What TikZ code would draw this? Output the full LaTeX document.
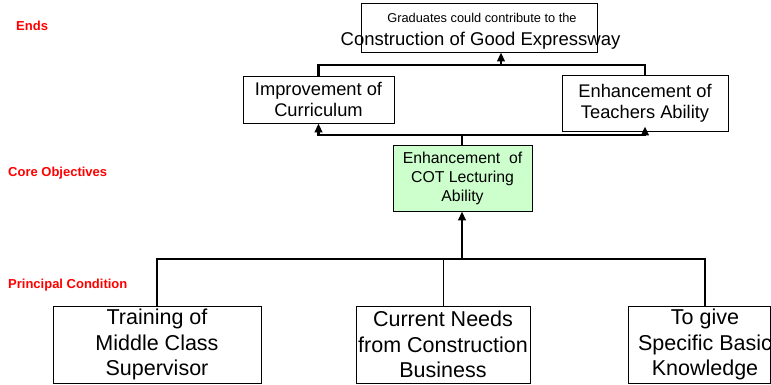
\documentclass[tikz,border=0pt]{standalone}
\usepackage{fontspec}
\setmainfont{Liberation Sans}
\usetikzlibrary{arrows.meta}
\definecolor{corefill}{HTML}{CCFFCC}
\definecolor{tagred}{HTML}{FF0000}

\begin{document}
\begin{tikzpicture}[x=1pt,y=-1pt,
  box/.style={draw=black, line width=0.9pt, inner sep=0pt, align=center},
  big/.style={font=\fontsize{21.5}{25.5}\selectfont},
  mid/.style={font=\fontsize{18.3}{21}\selectfont},
  link/.style={line width=2.6pt},
  feed/.style={link, -{Triangle[length=9pt,width=7.5pt]}},
  thinlink/.style={line width=1pt},
  tag/.style={text=tagred, font=\bfseries\fontsize{13}{15}\selectfont,
              anchor=base west, inner sep=0pt},
]
\clip (0,0) rectangle (771,385);

% level labels
\node[tag] (ends) at (16,31) {Ends};
\node[tag] (coretag) at (8,176) {Core Objectives};
\node[tag] (principal) at (8,288) {Principal Condition};

% ends
\node[box, minimum width=236pt, minimum height=49pt] (goal) at (479,27.5) {};
\node[anchor=base, inner sep=0pt, font=\fontsize{12.8}{15}\selectfont]
  (goalsub) at (482,22.7) {Graduates could contribute to the};
\node[anchor=base, inner sep=0pt, font=\fontsize{18.5}{22}\selectfont]
  (goaltitle) at (480.5,45.7) {Construction of Good Expressway};

\node[box, mid, minimum width=151pt, minimum height=47pt] (curr) at (318.5,99.5)
  {Improvement of\\Curriculum};
\node[box, mid, minimum width=166pt, minimum height=56pt] (teach) at (645,103)
  {Enhancement of\\Teachers Ability};

% core objective
\node[box, fill=corefill, font=\fontsize{15.8}{19}\selectfont,
      minimum width=139pt, minimum height=66pt] (core) at (462.5,178)
  {Enhancement~ of\\COT Lecturing\\Ability};

% principal conditions
\node[box, big, minimum width=208pt, minimum height=77pt] (train) at (157,344.5)
  {Training of\\Middle Class\\Supervisor};
\node[box, big, minimum width=174pt, minimum height=77pt] (needs) at (443,344.5)
  {Current Needs\\from Construction\\Business};
\node[box, minimum width=142pt, minimum height=77pt] (know) at (699,344.5) {};
\node[big, align=center, inner sep=0pt] (knowtext) at (705,344.5)
  {To give\\Specific Basic\\Knowledge};

% connectors
\coordinate (upbus) at (501,65);
\coordinate (midbus) at (462,135);
\coordinate (lowbus) at (462,259);

\draw[link] (curr.north) |- (upbus) -| (teach.north);
\draw[feed] (upbus) -- (goal.south -| upbus);

\draw[link] (core.north -| midbus) -- (midbus);
\draw[feed] (midbus) -| (curr.south);
\draw[feed] (midbus) -| ([yshift=5pt]teach.south);

\draw[link] (train.north) |- (lowbus) -| (knowtext |- know.north);
\draw[thinlink] (needs.north) -- (needs.north |- lowbus);
\draw[feed] (lowbus) -- (core.south -| lowbus);
\end{tikzpicture}
\end{document}
